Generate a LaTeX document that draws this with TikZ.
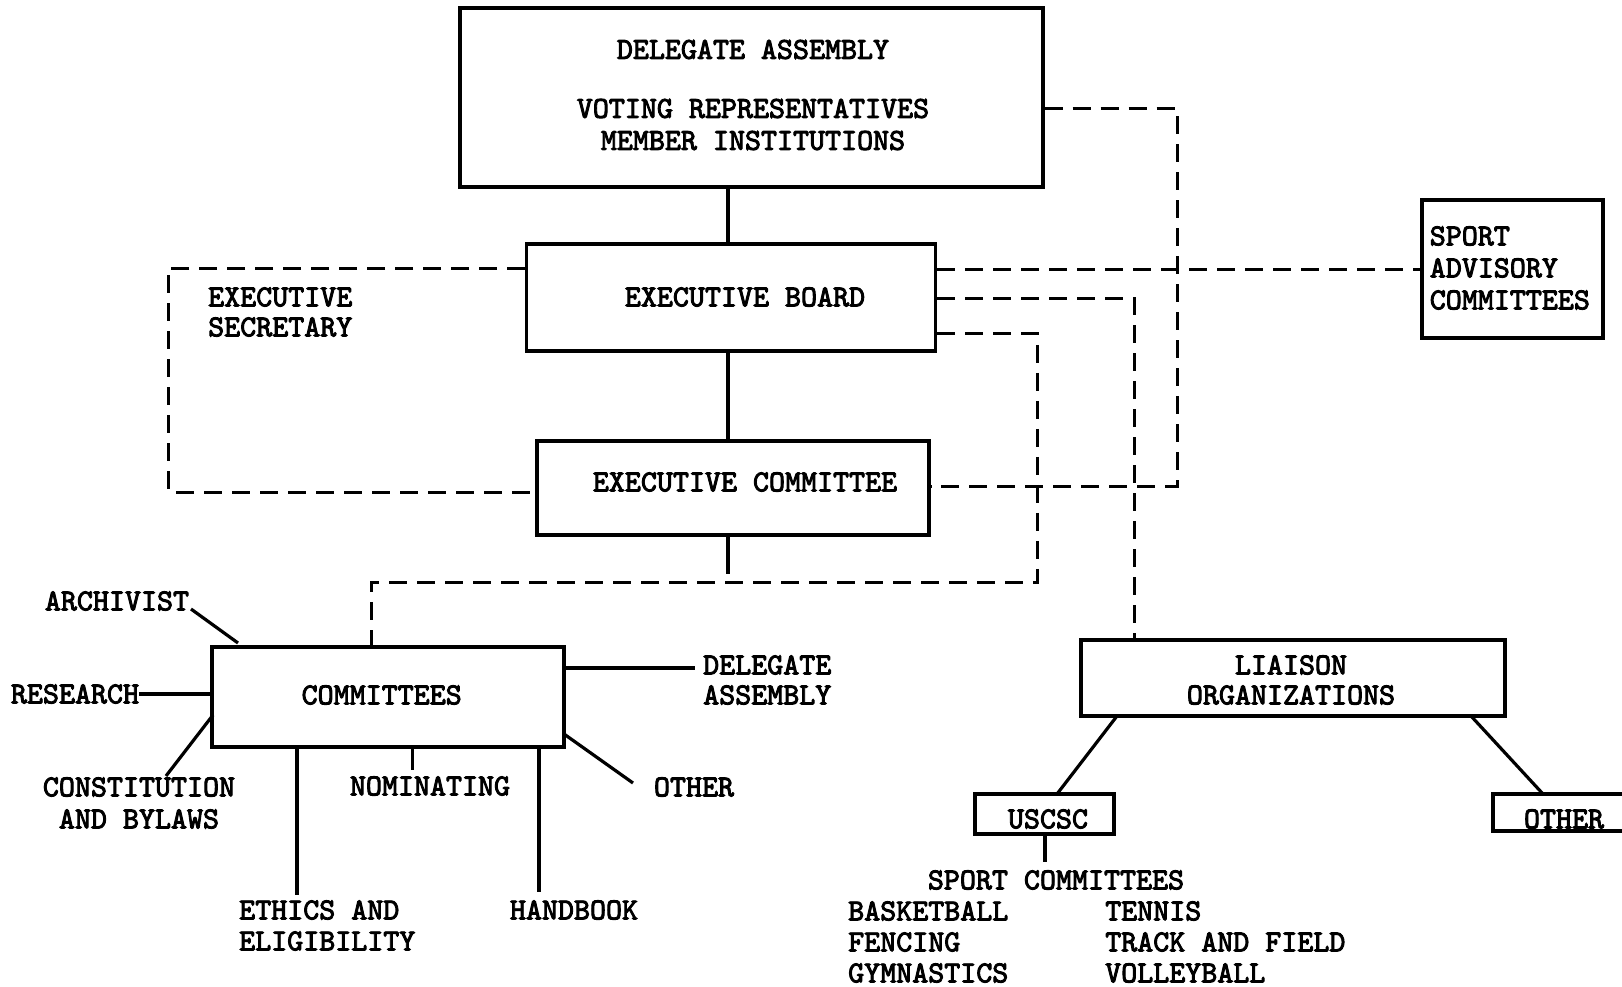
\documentclass[tikz,border=0pt]{standalone}
\usepackage{fontspec}
\setmonofont{lmmono10-regular}[Extension=.otf,FakeBold=3]
\begin{document}
\begin{tikzpicture}[x=1pt,y=-1pt,
  box/.style={draw,line width=3.3pt,inner sep=0pt},
  txt/.style={inner sep=0pt,font=\ttfamily\fontsize{30.5}{32}\selectfont},
  solidln/.style={line width=3.2pt},
  dashln/.style={line width=3pt,dash pattern=on 18pt off 10pt}]
\useasboundingbox (0,0) rectangle (1622,987);
\fill[white] (0,0) rectangle (1622,987);

% boxes
\node[box,minimum width=583pt,minimum height=179pt] (da) at (751.5,97.5) {};
\node[box,minimum width=409pt,minimum height=107pt] (eb) at (731.3,297.5) {};
\node[box,minimum width=392pt,minimum height=94pt] (ec) at (733,488) {};
\node[box,minimum width=181pt,minimum height=138pt] (sac) at (1512.5,269) {};
\node[box,minimum width=352pt,minimum height=100pt] (com) at (388,697) {};
\node[box,minimum width=424pt,minimum height=76pt] (lo) at (1293,678) {};
\node[box,minimum width=139pt,minimum height=40pt] (us) at (1044.5,814) {};
\node[box,minimum width=132pt,minimum height=37pt] (oth) at (1559,812.5) {};

% box texts
\node[txt,align=center] (dat) at (753,95) {DELEGATE ASSEMBLY\\[27pt]VOTING REPRESENTATIVES\\MEMBER INSTITUTIONS};
\node[txt] (ebt) at (745,297) {EXECUTIVE BOARD};
\node[txt] (ect) at (745,482) {EXECUTIVE COMMITTEE};
\node[txt,align=left,anchor=west] (sact) at (1429.6,268) {SPORT\\ADVISORY\\COMMITTEES};
\node[txt] (comt) at (381.7,695) {COMMITTEES};
\node[txt,align=center] (lot) at (1291,680) {LIAISON\\[-2pt]ORGANIZATIONS};
\node[txt] (ust) at (1048,819) {USCSC};
\node[txt] (otht) at (1564,819) {OTHER};

% main spine
\coordinate (v) at (728,0);
\draw[solidln] (da.south -| v) -- (eb.north -| v);
\draw[solidln] (eb.south -| v) -- (ec.north -| v);
\coordinate (ecstub) at (728,574);
\draw[solidln] (ec.south -| v) -- (ecstub);

% executive secretary loop
\coordinate (esA) at (168.6,268);
\coordinate (esB) at (168.6,492);
\draw[dashln] (eb.west |- esA) -- (esA) -- (esB) -- (ec.west |- esB);
\node[txt,align=left,anchor=west] (est) at (208,312) {EXECUTIVE\\[-2pt]SECRETARY};

% delegate assembly to executive committee
\coordinate (daR) at (1177,108.6);
\coordinate (daR2) at (1177,486);
\draw[dashln] (da.east |- daR) -- (daR) -- (daR2) -- (ec.east |- daR2);

% executive board to sport advisory committees
\coordinate (sacY) at (0,269);
\draw[dashln] (eb.east |- sacY) -- (sac.west |- sacY);

% executive board to liaison organizations
\coordinate (loA) at (1134,298);
\draw[dashln] (eb.east |- loA) -- (loA) -- (lo.north -| loA);

% executive board to committees
\coordinate (cA) at (1037.5,333);
\coordinate (cB) at (1037.5,582);
\coordinate (cC) at (371,582);
\draw[dashln] (eb.east |- cA) -- (cA) -- (cB) -- (cC) -- (com.north -| cC);

% committee spokes
\node[txt] (arch) at (117,601) {ARCHIVIST};
\coordinate (archA) at (191,609);
\coordinate (archB) at (238,643);
\draw[solidln] (archA) -- (archB);

\node[txt] (res) at (75,694) {RESEARCH};
\draw[solidln] (res.east) -- (com.west |- res.east);

\node[txt,align=center] (con) at (139,803) {CONSTITUTION\\AND BYLAWS};
\coordinate (conA) at (166,776);
\coordinate (conB) at (213,715);
\draw[solidln] (conA) -- (conB);

\coordinate (ethB) at (297,895);
\draw[solidln] (com.south -| ethB) -- (ethB);
\node[txt,align=left,anchor=west] (eth) at (239,925.5) {ETHICS AND\\[-1pt]ELIGIBILITY};

\coordinate (nomB) at (412.7,770);
\draw[solidln] (com.south -| nomB) -- (nomB);
\node[txt] (nom) at (430,786) {NOMINATING};

\coordinate (hbB) at (539,892);
\draw[solidln] (com.south -| hbB) -- (hbB);
\node[txt] (hb) at (574,910) {HANDBOOK};

\coordinate (othA) at (564,734);
\coordinate (othB) at (633,783);
\draw[solidln] (othA) -- (othB);
\node[txt] (othl) at (694,787) {OTHER};

\coordinate (dlA) at (0,668);
\coordinate (dlB) at (695,668);
\draw[solidln] (com.east |- dlA) -- (dlB);
\node[txt,align=left,anchor=west] (dl) at (703,680) {DELEGATE\\[-2pt]ASSEMBLY};

% liaison organizations
\coordinate (luA) at (1117,716);
\coordinate (luB) at (1057,794);
\draw[solidln] (luA) -- (luB);
\coordinate (loA2) at (1471,716);
\coordinate (loB2) at (1543,794);
\draw[solidln] (loA2) -- (loB2);

\coordinate (usB) at (1045,862);
\draw[solidln] (us.south -| usB) -- (usB);
\node[txt] (sc) at (1056,880) {SPORT COMMITTEES};
\node[txt,align=left,anchor=west] (colL) at (848,942) {BASKETBALL\\[-1pt]FENCING\\[-1pt]GYMNASTICS};
\node[txt,align=left,anchor=west] (colR) at (1105,942) {TENNIS\\[-1pt]TRACK AND FIELD\\[-1pt]VOLLEYBALL};
\end{tikzpicture}
\end{document}
